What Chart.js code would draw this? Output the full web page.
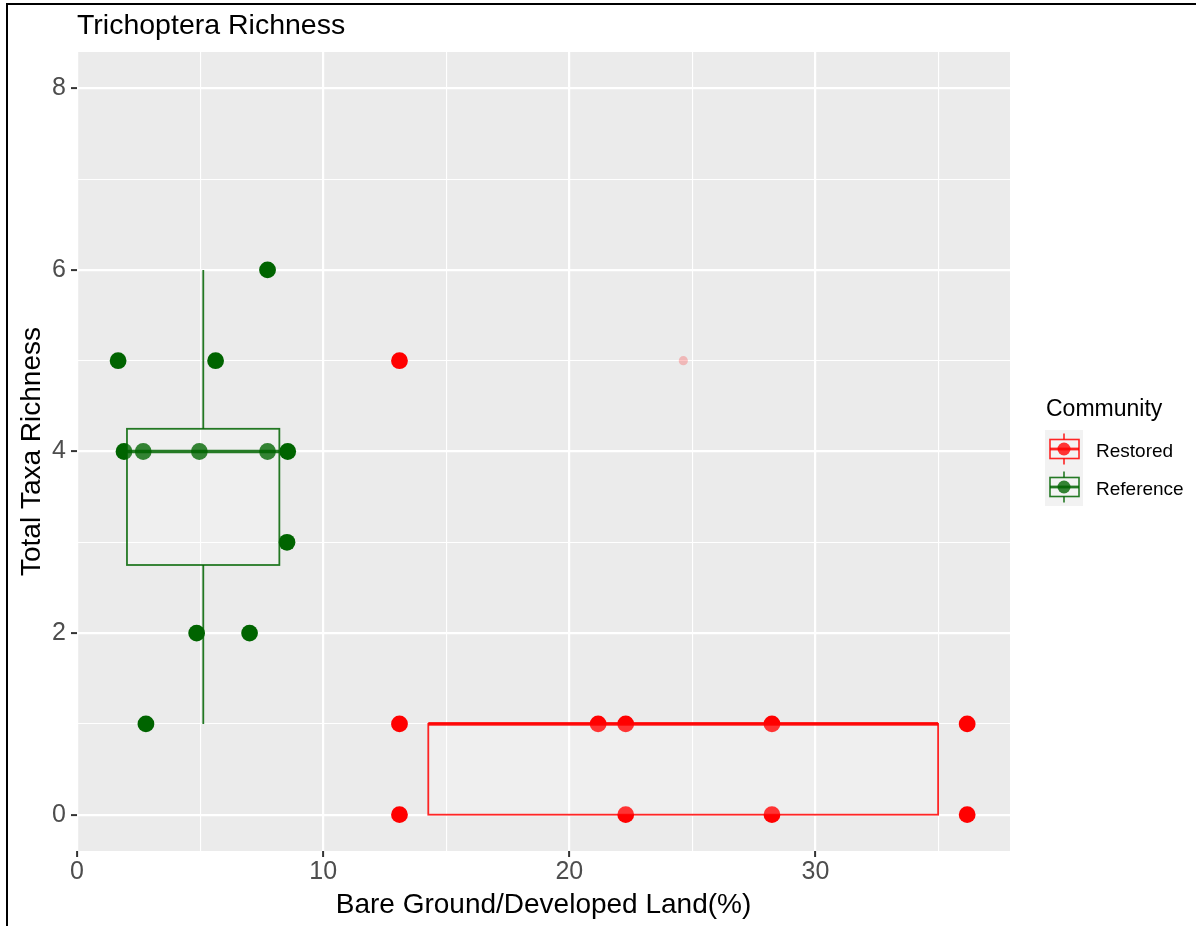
<!DOCTYPE html>
<html>
<head>
<meta charset="utf-8">
<title>Trichoptera Richness</title>
<script src="https://cdn.jsdelivr.net/npm/chart.js@4.4.1/dist/chart.umd.min.js"></script>
<style>
  body { margin: 0; background: #fff; font-family: Helvetica, "Liberation Sans", Arial, sans-serif; }
  #wrap { position: relative; width: 1196px; height: 926px; overflow: hidden; }
  #chart-box { position: absolute; left: 0; top: 0; width: 1196px; height: 926px; }
  #frame { position: absolute; left: 6px; top: 3px; right: -10px; bottom: -10px;
           border-top: 2px solid #000; border-left: 2px solid #000; pointer-events: none; }
  #title { position: absolute; left: 77px; top: 10px; font-size: 28.5px; line-height: 28px; color: #000; white-space: nowrap; }
  .leg-title { position: absolute; left: 1046px; top: 397px; font-size: 23px; line-height: 23px; color: #000; }
  .leg-key { position: absolute; left: 1045px; width: 38px; height: 38px; }
  .leg-label { position: absolute; left: 1096px; font-size: 19px; line-height: 19px; color: #000; }
</style>
</head>
<body>
<div id="wrap">
  <div id="chart-box"><canvas id="chart"></canvas></div>
  <div id="title">Trichoptera Richness</div>
  <div class="leg-title">Community</div>
  <canvas class="leg-key" id="key-restored" width="38" height="38" style="top:430px"></canvas>
  <div class="leg-label" style="top:441px">Restored</div>
  <canvas class="leg-key" id="key-reference" width="38" height="38" style="top:468px"></canvas>
  <div class="leg-label" style="top:479px">Reference</div>
  <div id="frame"></div>
</div>
<script>
// axis ticks
const xTicks = [0, 10, 20, 30];
const yTicks = [0, 2, 4, 6, 8];

// Reference sites
const refX = [1.67, 1.91, 2.69, 2.80, 4.86, 4.97, 5.63, 7.01, 7.74, 7.74, 8.53, 8.56];
const refY = [5, 4, 4, 1, 2, 4, 5, 2, 6, 4, 3, 4];

// Restored sites
const resX = [13.1, 13.1, 13.1, 21.17, 22.29, 22.29, 28.23, 28.23, 36.16, 36.16];
const resY = [5, 1, 0, 1, 1, 0, 1, 0, 1, 0];

// boxplot summaries, one entry per community
const groups = ['Restored', 'Reference'];
const boxXMin = [14.27, 2.03];
const boxXMax = [34.98, 8.22];
const boxCenter = [24.63, 5.13];
const whiskerLow = [0, 1];
const q1 = [0, 2.75];
const median = [1, 4];
const q3 = [1, 4.25];
const whiskerHigh = [1, 6];
const outlierX = [24.63];
const outlierY = [5];

const FONT = 'Helvetica, "Liberation Sans", Arial, sans-serif';
const boxColors = { Restored: 'rgba(255, 0, 0, 0.85)', Reference: 'rgba(0, 100, 0, 0.85)' };

const toPoints = (xs, ys) => xs.map((v, i) => ({ x: v, y: ys[i] }));

// gray panel behind the grid
const panelBackground = {
  id: 'panelBackground',
  beforeDraw(chart) {
    const { ctx, chartArea: a } = chart;
    ctx.save();
    ctx.fillStyle = '#EBEBEB';
    ctx.fillRect(a.left, a.top, a.right - a.left, a.bottom - a.top);
    ctx.restore();
  }
};

// boxes go on top of the points
const boxLayer = {
  id: 'boxLayer',
  afterDatasetsDraw(chart) {
    const { ctx, scales: { x, y } } = chart;
    ctx.save();
    groups.forEach((g, i) => {
      const left = x.getPixelForValue(boxXMin[i]);
      const right = x.getPixelForValue(boxXMax[i]);
      const cx = x.getPixelForValue(boxCenter[i]);
      const top = y.getPixelForValue(q3[i]);
      const bottom = y.getPixelForValue(q1[i]);
      ctx.fillStyle = 'rgba(255, 255, 255, 0.2)';
      ctx.fillRect(left, top, right - left, bottom - top);
      ctx.strokeStyle = boxColors[g];
      ctx.lineWidth = 1.8;
      ctx.strokeRect(left, top, right - left, bottom - top);
      ctx.beginPath();
      ctx.moveTo(cx, top);
      ctx.lineTo(cx, y.getPixelForValue(whiskerHigh[i]));
      ctx.moveTo(cx, bottom);
      ctx.lineTo(cx, y.getPixelForValue(whiskerLow[i]));
      ctx.stroke();
      ctx.lineWidth = 3.6;
      const my = y.getPixelForValue(median[i]);
      ctx.beginPath();
      ctx.moveTo(left, my);
      ctx.lineTo(right, my);
      ctx.stroke();
    });
    ctx.restore();
  }
};

// major lines at the labelled ticks, minor lines half way between
function gridScale(majors, step, min, max, tickPadding, opts) {
  const all = majors.flatMap(v => [v, v + step / 2]).filter(v => v >= min && v <= max);
  return Object.assign({
    type: 'linear',
    min: min,
    max: max,
    border: { display: false },
    afterBuildTicks(s) { s.ticks = all.map(v => ({ value: v })); },
    grid: {
      color: c => c.tick ? '#FFFFFF' : 'rgba(0,0,0,0)',
      lineWidth: c => (c.tick && majors.includes(c.tick.value)) ? 2.2 : 1.1,
      tickColor: c => (c.tick && majors.includes(c.tick.value)) ? '#333333' : 'rgba(0,0,0,0)',
      tickLength: 6,
      tickWidth: 2
    },
    ticks: {
      autoSkip: false,
      maxRotation: 0,
      padding: tickPadding,
      color: '#4D4D4D',
      font: { size: 25, family: FONT },
      callback: v => majors.includes(v) ? String(v) : ''
    }
  }, opts);
}

new Chart(document.getElementById('chart'), {
  type: 'scatter',
  data: {
    datasets: [
      {
        label: 'Reference',
        data: toPoints(refX, refY),
        backgroundColor: '#006400',
        pointRadius: 8.4,
        borderWidth: 0
      },
      {
        label: 'Restored',
        data: toPoints(resX, resY),
        backgroundColor: '#FF0000',
        pointRadius: 8.4,
        borderWidth: 0
      },
      {
        label: 'Restored outliers',
        data: toPoints(outlierX, outlierY),
        backgroundColor: 'rgba(255, 0, 0, 0.22)',
        pointRadius: 4.6,
        borderWidth: 0
      }
    ]
  },
  options: {
    responsive: true,
    maintainAspectRatio: false,
    animation: false,
    layout: { padding: { top: 52, right: 186, bottom: 0, left: 0 } },
    plugins: { legend: { display: false }, tooltip: { enabled: false } },
    scales: {
      x: gridScale(xTicks, 10, 0, 37.9, 0, {
        afterFit(s) { s.height = 75; },
        title: { display: true, text: 'Bare Ground/Developed Land(%)', color: '#000',
                 font: { size: 28, family: FONT }, padding: { top: 0, bottom: 4 } }
      }),
      y: gridScale(yTicks, 2, -0.4, 8.4, 5, {
        afterFit(s) { s.width = 77; },
        title: { display: true, text: 'Total Taxa Richness', color: '#000',
                 font: { size: 28, family: FONT }, padding: { top: 15, bottom: 0 } }
      })
    }
  },
  plugins: [panelBackground, boxLayer]
});

// legend keys: point with a small boxplot glyph over it
function drawKey(id, color, line) {
  const c = document.getElementById(id).getContext('2d');
  c.fillStyle = '#F2F2F2';
  c.fillRect(0, 0, 38, 38);
  c.fillStyle = color;
  c.beginPath();
  c.arc(19, 19, 6.5, 0, Math.PI * 2);
  c.fill();
  c.fillStyle = 'rgba(255, 255, 255, 0.2)';
  c.fillRect(5, 9.5, 29, 19);
  c.strokeStyle = line;
  c.lineWidth = 1.6;
  c.strokeRect(5, 9.5, 29, 19);
  c.beginPath();
  c.moveTo(19, 3.5); c.lineTo(19, 9.5);
  c.moveTo(19, 28.5); c.lineTo(19, 34.5);
  c.stroke();
  c.lineWidth = 2.8;
  c.beginPath();
  c.moveTo(5, 19); c.lineTo(34, 19);
  c.stroke();
}
drawKey('key-restored', '#FF0000', boxColors.Restored);
drawKey('key-reference', '#006400', boxColors.Reference);
</script>
</body>
</html>
